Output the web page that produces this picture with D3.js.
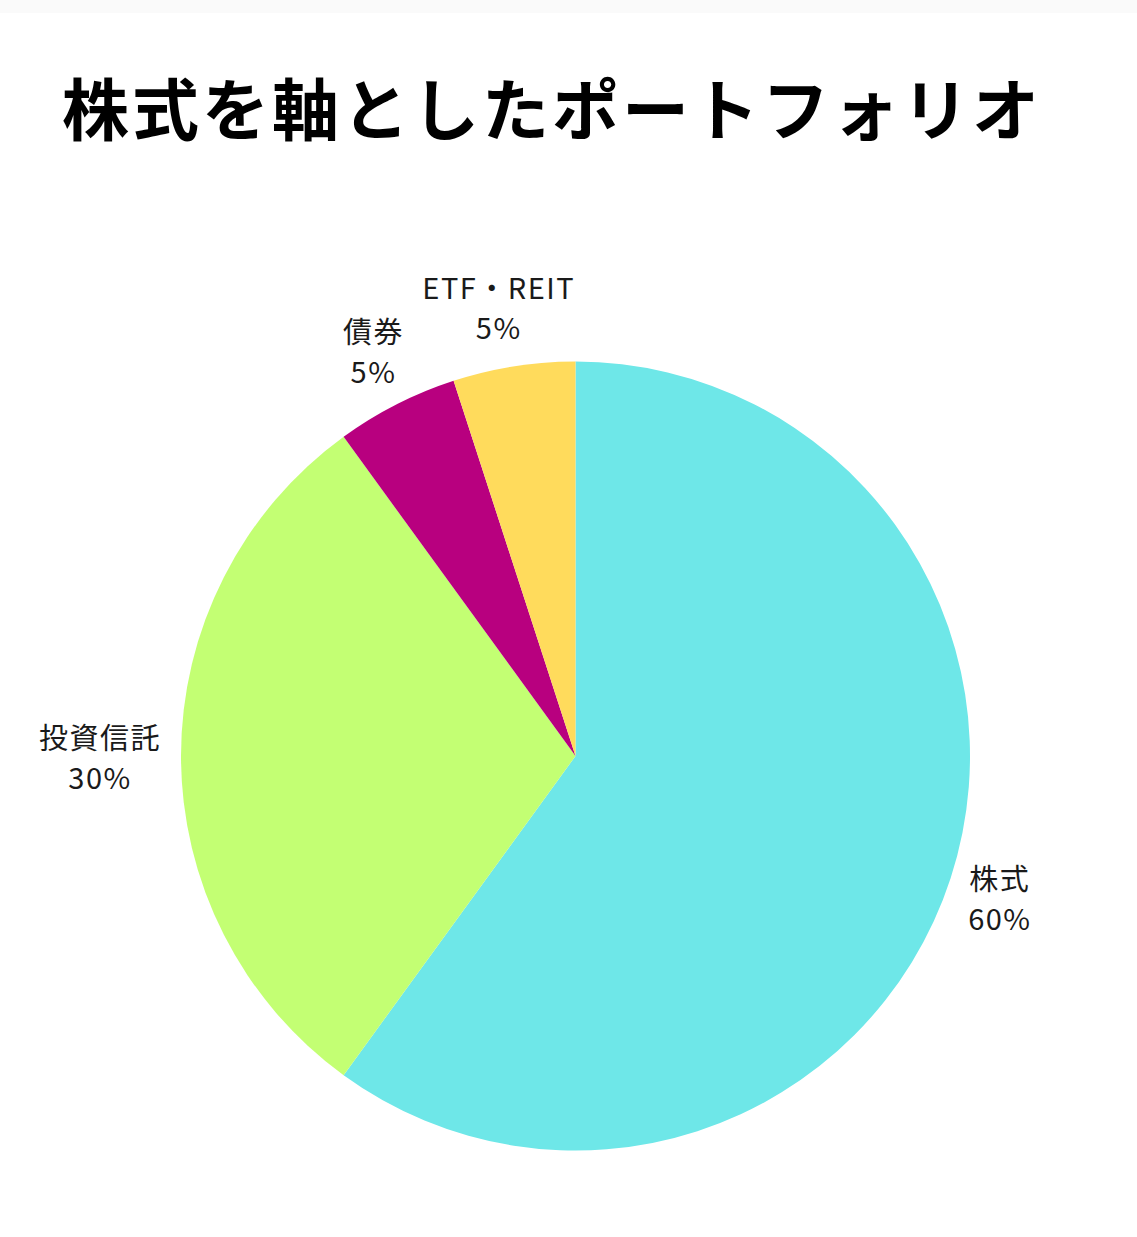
<!DOCTYPE html>
<html lang="ja">
<head>
<meta charset="utf-8">
<script src="https://cdn.jsdelivr.net/npm/d3@7"></script>
<style>
  html, body { margin: 0; padding: 0; background: #ffffff; }
  svg { display: block; }
</style>
</head>
<body>
<svg id="chart" width="1137" height="1237"></svg>
<script>
// Portfolio allocation, clockwise from 12 o'clock
const categories = ["株式", "投資信託", "債券", "ETF・REIT"];
const shares = [60, 30, 5, 5];
const colors = ["#6ee7e8", "#c3ff73", "#b8007f", "#ffdb5c"];
const titleText = "株式を軸としたポートフォリオ";

const W = 1137, H = 1237;
const cx = 575.5, cy = 756, R = 394.5;
const labelGap = 20;
const labelFont = "'Noto Sans CJK JP', 'Noto Sans', sans-serif";

const svg = d3.select("#chart");

// faint strip along the top edge
svg.append("rect").attr("x", 0).attr("y", 0).attr("width", W).attr("height", 13).attr("fill", "#fafafa");

svg.append("text")
  .attr("x", 62).attr("y", 135)
  .attr("font-family", labelFont)
  .attr("font-weight", 700)
  .attr("font-size", 67)
  .attr("letter-spacing", 3)
  .attr("fill", "#000")
  .text(titleText);

const data = categories.map((c, i) => ({ name: c, value: shares[i], color: colors[i] }));
const pie = d3.pie().value(d => d.value).sort(null);
const arc = d3.arc().innerRadius(0).outerRadius(R);
const arcs = pie(data);

const g = svg.append("g").attr("transform", `translate(${cx},${cy})`);
g.selectAll("path.slice")
  .data(arcs)
  .join("path")
  .attr("class", "slice")
  .attr("d", arc)
  .attr("fill", d => d.data.color);

// labels sit just outside the rim, the box pushed outward along the slice direction
const lineH = 40, fs = 29;
arcs.forEach(a => {
  const mid = (a.startAngle + a.endAngle) / 2;
  const ux = Math.sin(mid), uy = -Math.cos(mid);
  const lbl = g.append("text")
    .attr("font-family", labelFont)
    .attr("font-size", fs)
    .attr("letter-spacing", 1.5)
    .attr("fill", "#1a1a1a")
    .attr("text-anchor", "middle");
  const lines = [a.data.name, a.data.value + "%"];
  lines.forEach((t, k) => {
    lbl.append("tspan").attr("x", 0).attr("y", k * lineH).text(t);
  });
  const bb = lbl.node().getBBox();
  const w = bb.width, h = bb.height;
  const px = ux * (R + labelGap), py = uy * (R + labelGap);
  const bx = px + ux * w / 2 - (bb.x + w / 2), by = py + uy * h / 2;
  const bcy = bb.y + h / 2;
  lbl.attr("transform", `translate(${bx},${by - bcy})`);
});
</script>
</body>
</html>
